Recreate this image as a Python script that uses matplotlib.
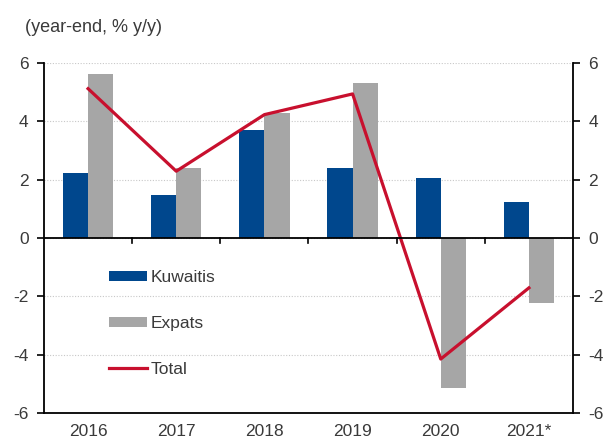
import matplotlib
matplotlib.use('Agg')
import matplotlib.pyplot as plt
import numpy as np

years = ['2016', '2017', '2018', '2019', '2020', '2021*']
kuwaitis = [2.24, 1.47, 3.72, 2.41, 2.06, 1.25]
expats = [5.62, 2.40, 4.29, 5.33, -5.14, -2.23]
total = [5.12, 2.29, 4.23, 4.94, -4.15, -1.71]
yticks = [-6, -4, -2, 0, 2, 4, 6]

blue = '#00478D'
grey = '#A6A6A6'
red = '#C8102E'
txt = '#3a3a3a'

plt.rcParams['font.family'] = ['Liberation Sans', 'DejaVu Sans']
plt.rcParams['axes.unicode_minus'] = False

fig = plt.figure(figsize=(6.09, 4.41), dpi=100)
ax = fig.add_axes([44 / 609, 28 / 441, 529 / 609, 350 / 441])

x = np.arange(len(years))
w = 0.285
b1 = ax.bar(x - w / 2, kuwaitis, w, color=blue, label='Kuwaitis', zorder=2)
b2 = ax.bar(x + w / 2, expats, w, color=grey, label='Expats', zorder=2)
l1, = ax.plot(x, total, color=red, lw=2.3, label='Total', zorder=3)

ax.set_xlim(-0.5, len(years) - 0.5)
ax.set_ylim(-6, 6)
ax.set_yticks(yticks)
ax.set_xticks(x)
ax.set_xticklabels(years)
ax.yaxis.grid(True, linestyle=(0, (1, 1.5)), color='#c8c8c8', lw=0.8, zorder=0)
ax.set_axisbelow(True)

ax.axhline(0, color='black', lw=1.3, zorder=4)
# ticks on zero line between categories
for b in np.arange(0.5, len(years) - 0.5):
    ax.plot([b, b], [0, -0.17], color='black', lw=1.2, zorder=4, clip_on=False)

ax.spines['top'].set_visible(False)
for s in ['left', 'right', 'bottom']:
    ax.spines[s].set_color('black')
    ax.spines[s].set_linewidth(1.3)

ax.tick_params(axis='y', left=True, right=True, labelleft=True, labelright=True,
               direction='out', length=5, width=1.2, labelsize=12.5, labelcolor=txt,
               color='black', pad=6)
ax.tick_params(axis='x', length=0, labelsize=12.5, labelcolor=txt, pad=8)

leg = ax.legend([b1, b2, l1], ['Kuwaitis', 'Expats', 'Total'],
                loc='upper left', bbox_to_anchor=(0.122, 0.408), frameon=False,
                fontsize=12.5, labelspacing=1.78, handlelength=2.2, handleheight=0.55,
                handletextpad=0.25, borderpad=0, borderaxespad=0)
for t in leg.get_texts():
    t.set_color(txt)

fig.text(25 / 609, 1 - 27 / 441, '(year-end, % y/y)', fontsize=13, color=txt,
         va='center', ha='left')

fig.savefig('out.png', dpi=100)
